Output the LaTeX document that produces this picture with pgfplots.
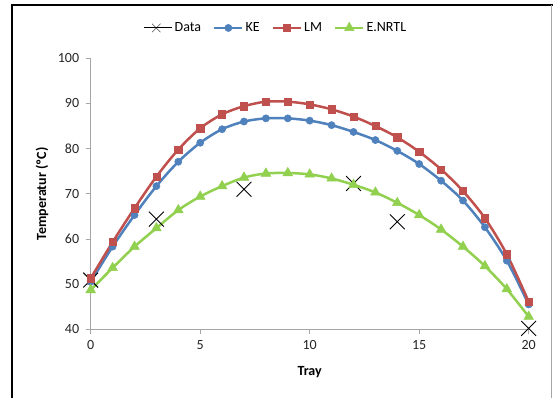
\documentclass[border=0pt]{standalone}
\usepackage{pgfplots}
\pgfplotsset{compat=1.18}
\usepackage{fontspec}
\setmainfont{Carlito}
\definecolor{keblue}{HTML}{4F81BD}
\definecolor{lmred}{HTML}{C0504D}
\definecolor{nrtlgreen}{HTML}{92D050}
\definecolor{axgray}{HTML}{A6A6A6}
\begin{document}
\begin{tikzpicture}
\useasboundingbox (0,0) rectangle (553pt,398pt);
\fill[white] (0,0) rectangle (553pt,398pt);
\draw[black, line width=2.2pt] (12pt,0) -- (12pt,393pt) -- (553pt,393pt);
\draw[axgray, line width=1pt] (551.5pt,393pt) -- (551.5pt,0);
\begin{axis}[
  at={(90.7pt,68.7pt)}, anchor=south west,
  scale only axis, width=438pt, height=271pt,
  xmin=0, xmax=20, ymin=40, ymax=100,
  axis lines=left,
  axis line style={axgray, line width=0.8pt, -},
  xtick={0,5,10,15,20}, ytick={40,50,...,100},
  tick style={axgray, line width=0.8pt},
  tick align=outside, major tick length=5pt,
  tick label style={font=\fontsize{14}{16}\selectfont, text=black!85},
  /pgf/number format/assume math mode=true,
  xticklabel style={yshift=-3pt},
  yticklabel style={xshift=-3pt},
  xlabel={\textbf{Tray}}, ylabel={\textbf{Temperatur (ºC)}},
  label style={font=\fontsize{14}{16}\selectfont},
  xlabel style={at={(0.5,-0.156)}, anchor=center},
  ylabel style={at={(-0.111,0.5)}, anchor=center},
  clip=false,
  legend columns=4,
  legend cell align=left,
  legend style={draw=none, fill=none, at={(0.423,1.112)}, anchor=center,
    font=\fontsize{14}{16}\selectfont, inner sep=0pt,
    /tikz/every even column/.append style={column sep=10pt}},
  legend image code/.code={\draw[#1] (0pt,0pt) -- (28pt,0pt) plot coordinates {(14pt,0pt)};},
]
\addplot[only marks, mark=x, mark size=10.5pt, black, line width=0.9pt,
  legend image code/.code={\draw[black!70, line width=0.6pt] plot[mark=x, mark size=6pt] coordinates {(12pt,0pt)}; \path (0pt,0pt) -- (28pt,0pt);}]
  coordinates {(0,50.9) (3,64.4) (7,71.0) (12,72.3) (14,63.8) (20,40.2)};
\addlegendentry{Data}
\addplot[keblue, line width=2.5pt, smooth, mark=*, mark size=3.6pt, mark options={solid, fill=keblue, line width=0.5pt}]
  coordinates {(0,50.5) (1,58.3) (2,65.3) (3,71.7) (4,77.1) (5,81.3) (6,84.3) (7,86.0) (8,86.7) (9,86.7) (10,86.2) (11,85.2) (12,83.7) (13,81.9) (14,79.5) (15,76.6) (16,72.9) (17,68.5) (18,62.6) (19,55.2) (20,45.5)};
\addlegendentry{KE}
\addplot[lmred, line width=2.5pt, smooth, mark=square*, mark size=3.6pt, mark options={solid, fill=lmred, line width=0.5pt}]
  coordinates {(0,51.3) (1,59.3) (2,66.8) (3,73.8) (4,79.8) (5,84.5) (6,87.6) (7,89.4) (8,90.4) (9,90.4) (10,89.8) (11,88.7) (12,87.1) (13,85.0) (14,82.5) (15,79.3) (16,75.4) (17,70.6) (18,64.6) (19,56.6) (20,46.1)};
\addlegendentry{LM}
\addplot[nrtlgreen, line width=2.5pt, smooth, mark=triangle*, mark size=5.6pt, mark options={solid, fill=nrtlgreen, line width=0.5pt}]
  coordinates {(0,48.7) (1,53.6) (2,58.3) (3,62.4) (4,66.4) (5,69.4) (6,71.7) (7,73.6) (8,74.5) (9,74.6) (10,74.3) (11,73.4) (12,72.0) (13,70.3) (14,68.0) (15,65.3) (16,62.1) (17,58.3) (18,54.0) (19,48.9) (20,42.8)};
\addlegendentry{E.NRTL}
\end{axis}
\end{tikzpicture}
\end{document}
